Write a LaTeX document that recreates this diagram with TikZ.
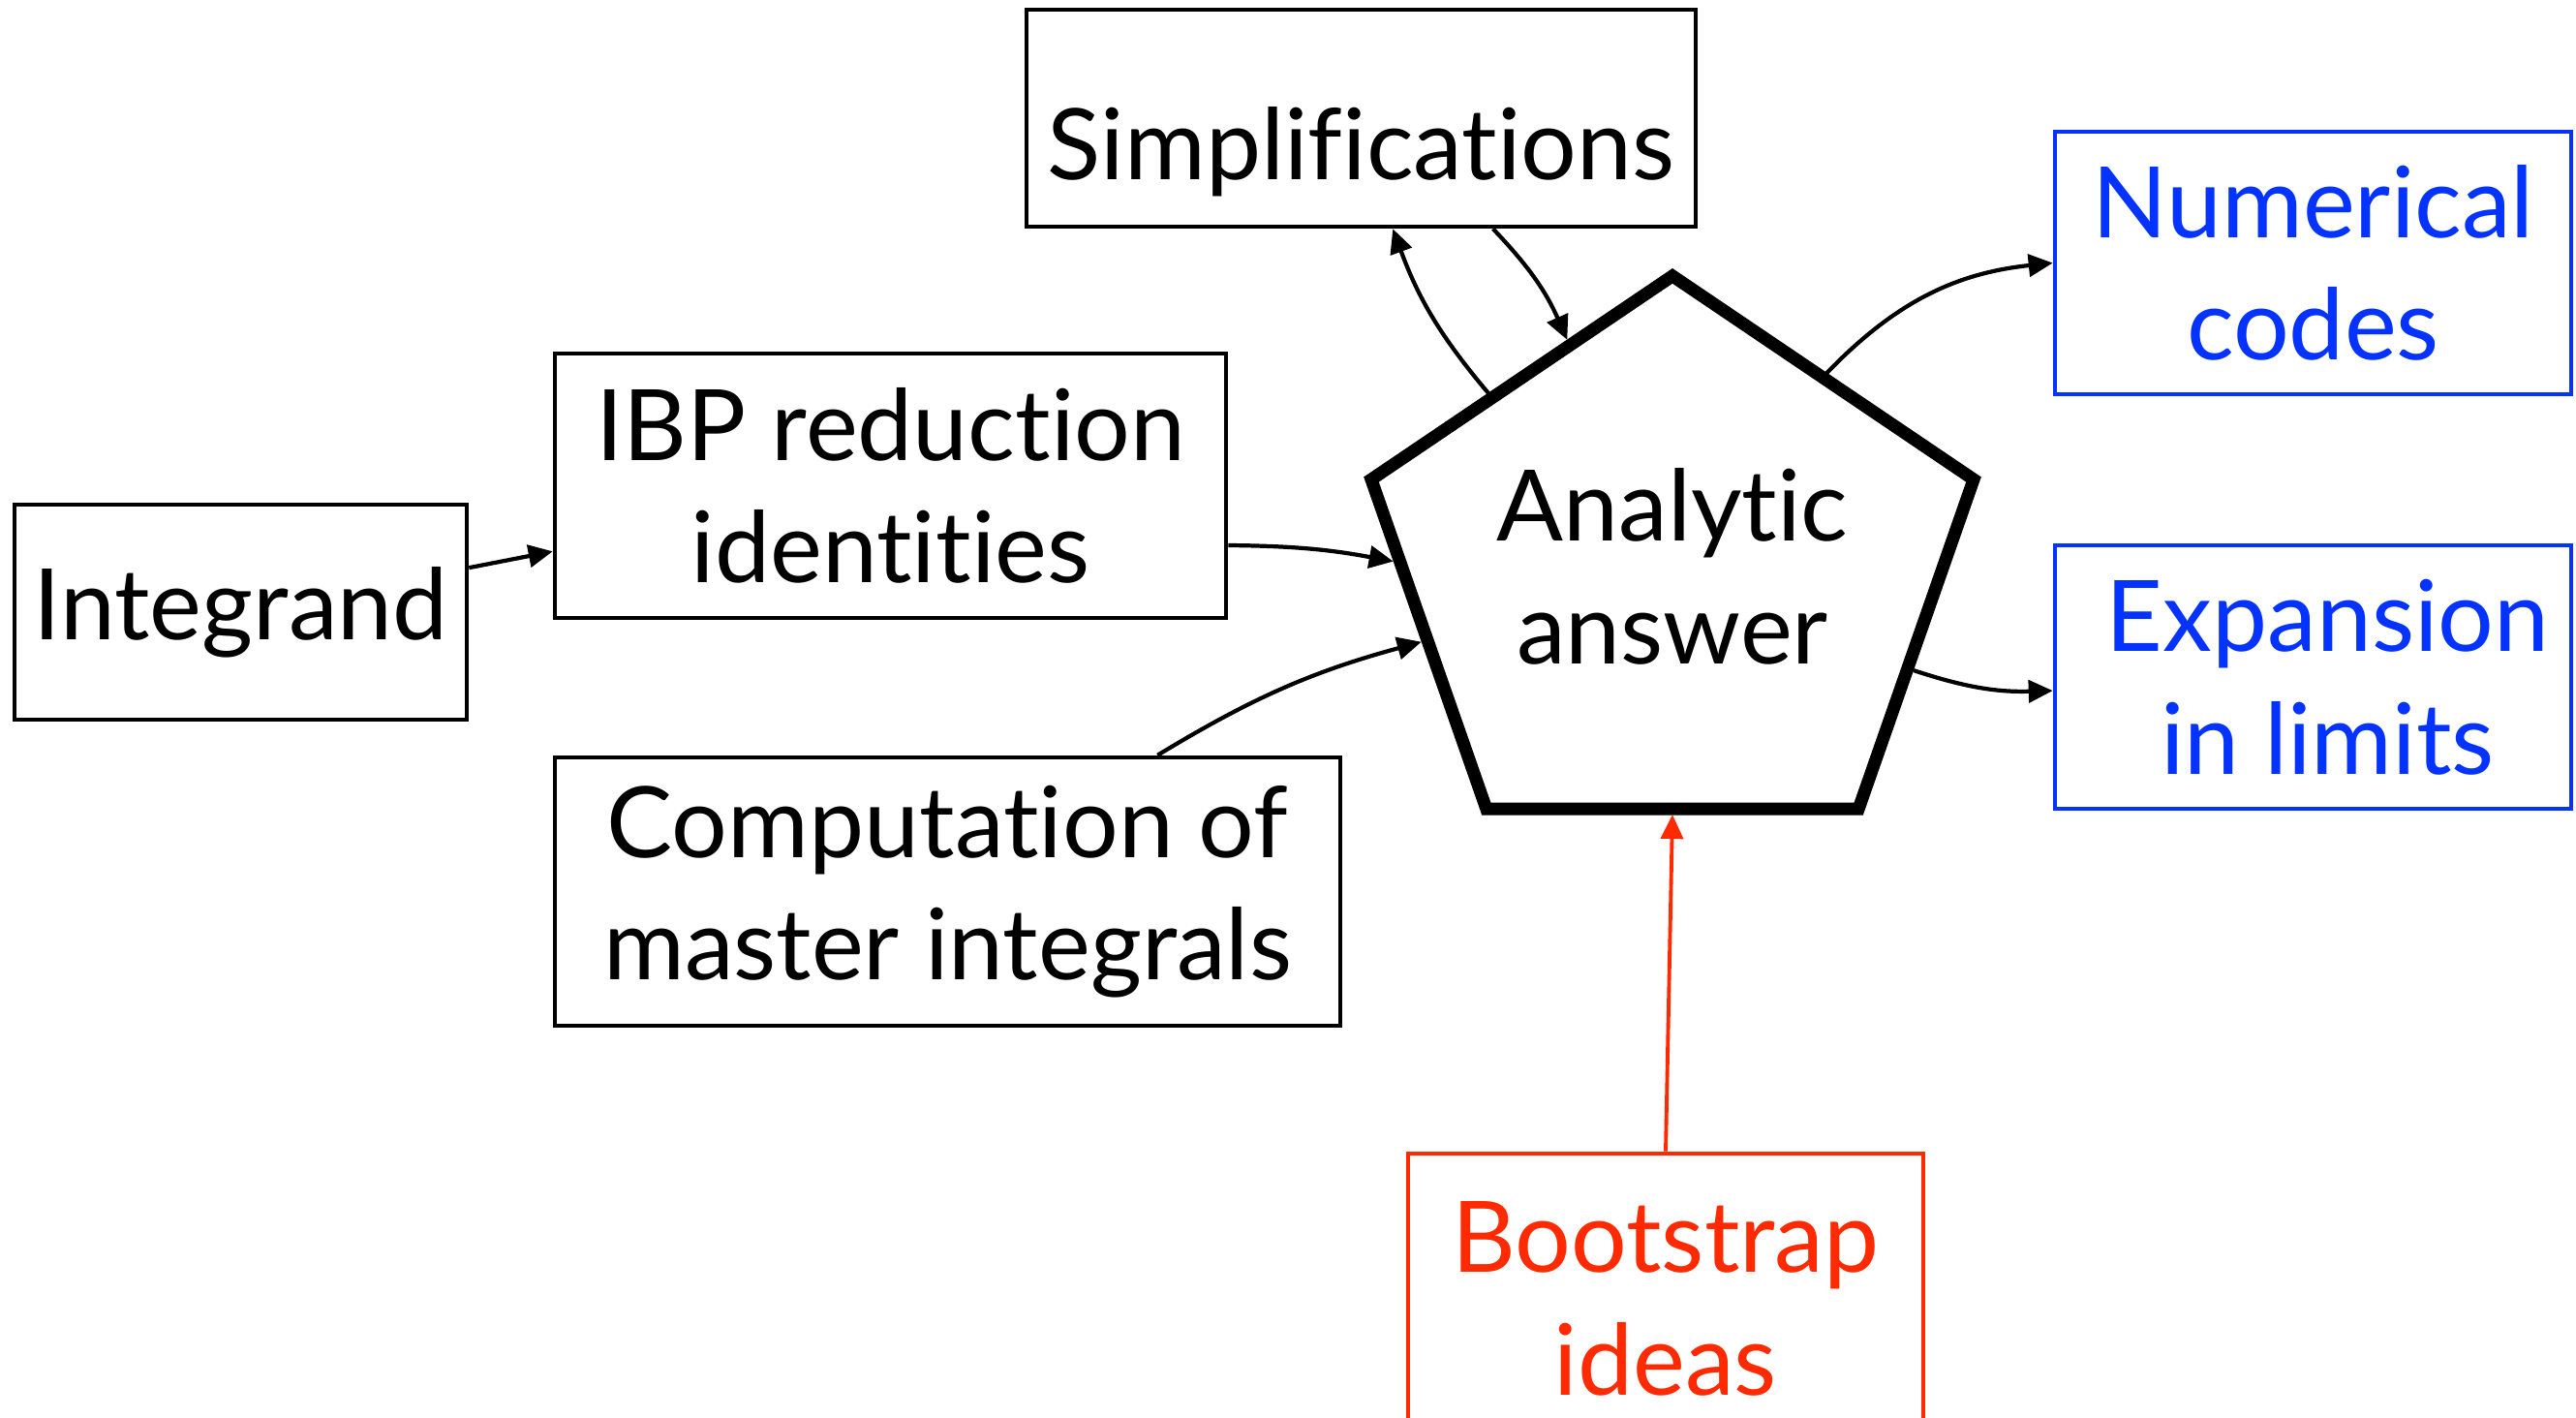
\documentclass[tikz,border=0pt]{standalone}
\usepackage{fontspec}
\setmainfont{Lato}[Ligatures={NoCommon}]
\usetikzlibrary{arrows.meta, shapes.geometric, calc}
\definecolor{AccentB}{HTML}{0433FF}
\definecolor{AccentR}{HTML}{FF2A00}
\tikzset{
  kbox/.style={draw=black, line width=1.3pt, align=center, inner sep=0pt,
    font=\fontsize{29}{36}\selectfont},
  bbox/.style={draw=AccentB, line width=1.3pt, align=center, inner sep=0pt,
    text=AccentB, font=\fontsize{29}{36}\selectfont},
  rbox/.style={draw=AccentR, line width=1.3pt, align=center, inner sep=0pt,
    text=AccentR, font=\fontsize{29}{36}\selectfont},
  penta/.style={draw=black, line width=3.7pt, regular polygon,
    regular polygon sides=5, inner sep=0pt, minimum size=6.54cm,
    yscale=0.93, transform shape},
  flow/.style={-{Triangle[length=2.5mm, width=2.3mm]}, line width=1.2pt},
  flowr/.style={-{Triangle[length=2.5mm, width=2.3mm]}, line width=1.1pt, draw=AccentR},
}
\begin{document}
\begin{tikzpicture}
  \useasboundingbox (0,0) rectangle (26.6,-14.64);
  % boxes
  \node[kbox, minimum width=4.67cm, minimum height=2.22cm] (int) at (2.485,-6.32) {Integrand};
  \node[kbox, minimum width=6.93cm, minimum height=2.73cm] (ibp) at (9.195,-5.015) {IBP reduction\\identities};
  \node[kbox, minimum width=8.11cm, minimum height=2.77cm] (mi) at (9.785,-9.205) {Computation of\\master integrals};
  \node[kbox, minimum width=6.91cm, minimum height=2.24cm, text height=1.45cm] (simp) at (14.055,-1.22) {Simplifications};
  \node[bbox, minimum width=5.33cm, minimum height=2.71cm] (num) at (23.885,-2.715) {Numerical\\codes};
  \node[bbox, minimum width=5.33cm, minimum height=2.72cm] (exp) at (23.885,-6.99) {\hspace*{0.3cm}Expansion\\\hspace*{0.3cm}in limits};
  \node[rbox, minimum width=5.32cm, minimum height=3.0cm] (boot) at (17.2,-13.41) {Bootstrap\\ideas};
  % the answer
  \coordinate (mid) at (17.27,-5.89);
  \node[penta] (ans) at (mid) {};
  \node[align=center, font=\fontsize{29}{36}\selectfont] (anstxt) at (17.27,-5.85) {Analytic\\answer};
  % arrows
  \draw[flow] (int.11) -- (ibp.191.5);
  \draw[flow] (ibp.-10) to[bend left=5] (ans.178);
  \draw[flow] (mi.33) to[bend left=8] (ans.197);
  \draw[flow] (ans.134) to[bend left=10] (simp.-74);
  \draw[flow] (simp.-40) to[bend left=10] (ans.113);
  \draw[flow] (ans.54) to[bend left=20] (num.west);
  \draw[flow] (ans.-24) to[bend right=10] (exp.183);
  \draw[flowr] (boot.north) -- (ans.side 3);
\end{tikzpicture}
\end{document}
